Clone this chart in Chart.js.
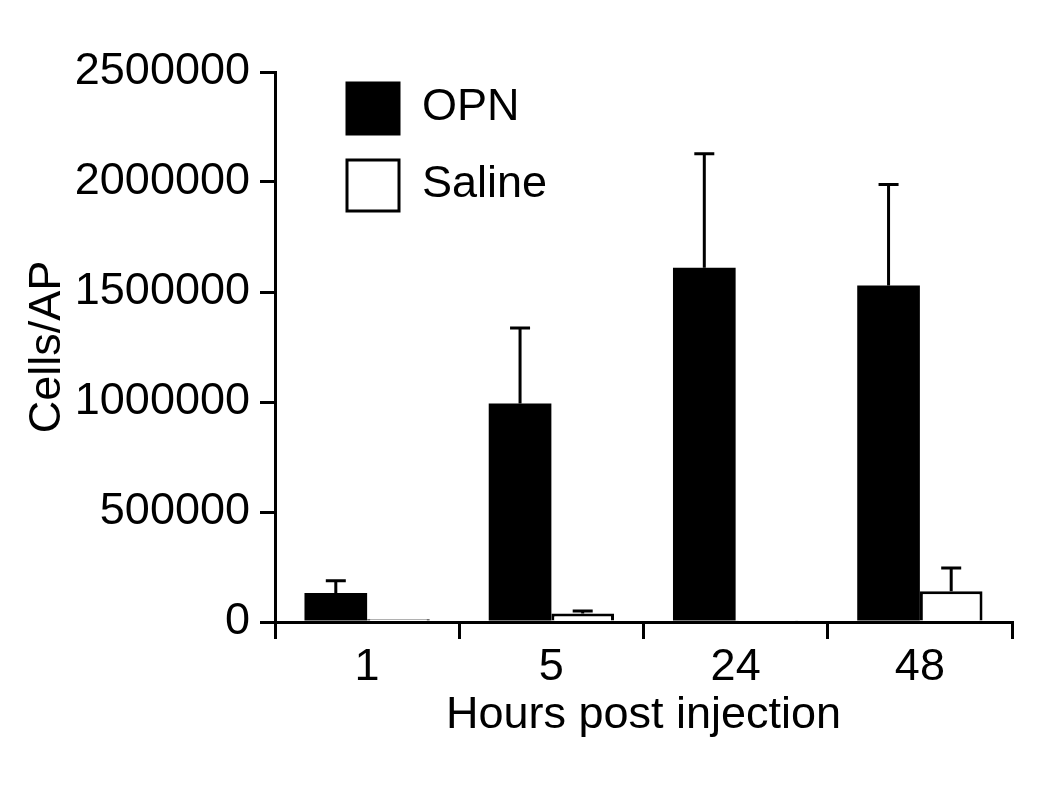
<!DOCTYPE html>
<html>
<head>
<meta charset="utf-8">
<script src="https://cdn.jsdelivr.net/npm/chart.js@4.4.1/dist/chart.umd.min.js"></script>
<style>
    body { margin: 0; background: #fff; }
    #wrap { width: 1050px; height: 788px; }
</style>
</head>
<body>
<div id="wrap"><canvas id="cellsChart" width="1050" height="788"></canvas></div>
<script>
// Values
const hours = ['1', '5', '24', '48'];
const opnMeans = [132000, 993000, 1610000, 1530000];
const opnErrors = [55000, 343000, 518000, 459000];
const salineMeans = [13000, 39000, 8000, 140000];
const salineErrors = [0, 11000, 0, 106000];
const yTicks = [0, 500000, 1000000, 1500000, 2000000, 2500000];

const FONT = '"Liberation Sans", Arial, Helvetica, sans-serif';
Chart.defaults.font.family = FONT;
Chart.defaults.color = '#000';

// Upper error bars (mean + SEM), drawn through the scales
const errorBarPlugin = {
    id: 'errorBars',
    afterDatasetsDraw(chart) {
        const ctx = chart.ctx;
        const yScale = chart.scales.y;
        ctx.save();
        ctx.strokeStyle = '#000';
        ctx.lineWidth = 3;
        chart.data.datasets.forEach((ds, i) => {
            const meta = chart.getDatasetMeta(i);
            meta.data.forEach((bar, j) => {
                const err = ds.errors[j];
                if (!err) return;
                const yTop = yScale.getPixelForValue(ds.data[j] + err);
                const yBar = yScale.getPixelForValue(ds.data[j]);
                ctx.beginPath();
                ctx.moveTo(bar.x, yBar);
                ctx.lineTo(bar.x, yTop);
                ctx.moveTo(bar.x - 10, yTop);
                ctx.lineTo(bar.x + 10, yTop);
                ctx.stroke();
            });
        });
        ctx.restore();
    }
};

// Legend inside the plot, boxes stacked top-left
const insideLegendPlugin = {
    id: 'insideLegend',
    afterDraw(chart) {
        const ctx = chart.ctx;
        const area = chart.chartArea;
        ctx.save();
        ctx.font = '45px ' + FONT;
        ctx.textBaseline = 'middle';
        chart.data.datasets.forEach((ds, i) => {
            const x = area.left + 72;
            const y = area.top + 11 + i * 77;
            ctx.fillStyle = ds.backgroundColor;
            ctx.fillRect(x, y, 52, 51);
            ctx.strokeStyle = '#000';
            ctx.lineWidth = 3;
            ctx.strokeRect(x, y, 52, 51);
            ctx.fillStyle = '#000';
            ctx.fillText(ds.label, x + 75, y + 25);
        });
        ctx.restore();
    }
};

const ctx = document.getElementById('cellsChart').getContext('2d');
const cellsChart = new Chart(ctx, {
    type: 'bar',
    data: {
        labels: hours,
        datasets: [
            {
                label: 'OPN',
                data: opnMeans,
                errors: opnErrors,
                backgroundColor: '#000',
                borderColor: '#000',
                borderWidth: 0
            },
            {
                label: 'Saline',
                data: salineMeans,
                errors: salineErrors,
                backgroundColor: '#fff',
                borderColor: '#000',
                borderWidth: 3
            }
        ]
    },
    options: {
        responsive: false,
        animation: false,
        datasets: {
            bar: { barPercentage: 1.0, categoryPercentage: 0.68 }
        },
        layout: {
            padding: { left: 17, right: 38, top: 72, bottom: 41 }
        },
        plugins: {
            legend: { display: false },
            tooltip: { enabled: false }
        },
        scales: {
            x: {
                grid: {
                    offset: true,
                    drawOnChartArea: false,
                    drawTicks: true,
                    tickLength: 17,
                    color: '#000',
                    lineWidth: 3
                },
                border: { display: true, color: '#000', width: 3 },
                ticks: { font: { size: 45 }, padding: 2, color: '#000' },
                title: {
                    display: true,
                    text: 'Hours post injection',
                    font: { size: 45 },
                    color: '#000'
                },
                afterFit(scale) { scale.height = 125; }
            },
            y: {
                min: 0,
                max: 2500000,
                afterBuildTicks(scale) {
                    scale.ticks = yTicks.map(v => ({ value: v }));
                },
                grid: {
                    drawOnChartArea: false,
                    drawTicks: true,
                    tickLength: 15,
                    color: '#000',
                    lineWidth: 3
                },
                border: { display: true, color: '#000', width: 3 },
                ticks: {
                    font: { size: 45 },
                    padding: 10,
                    color: '#000',
                    callback: function(value) { return String(value); }
                },
                title: {
                    display: true,
                    text: 'Cells/AP',
                    font: { size: 45 },
                    color: '#000'
                },
                afterFit(scale) { scale.width = 258; }
            }
        }
    },
    plugins: [errorBarPlugin, insideLegendPlugin]
});
</script>
</body>
</html>
